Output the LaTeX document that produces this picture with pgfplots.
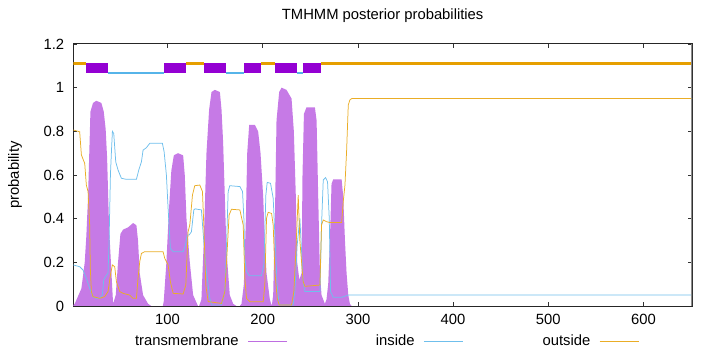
\documentclass[border=0pt]{standalone}
\usepackage{fontspec}
\setmainfont{Liberation Sans}
\usepackage{pgfplots}
\pgfplotsset{compat=1.18}
\definecolor{tmdark}{HTML}{9400D3}
\definecolor{tmfill}{RGB}{198,122,230}
\definecolor{tmline}{RGB}{190,110,225}
\definecolor{inblue}{HTML}{56B4E9}
\definecolor{outorange}{HTML}{E69F00}
\begin{document}
\fontsize{14.8bp}{17bp}\selectfont
\begin{tikzpicture}
\useasboundingbox (-73.3bp,-46bp) rectangle (646.7bp,306bp);
\begin{axis}[
  scale only axis,
  width=618.7bp, height=262bp,
  xmin=1, xmax=651, ymin=0, ymax=1.2,
  xtick={100,200,300,400,500,600},
  ytick={0,0.2,0.4,0.6,0.8,1,1.2},
  /pgf/number format/assume math mode=true,
  tick align=inside,
  major tick length=4bp,
  tick style={black!80, line width=0.6bp},
  axis line style={black!85, line width=1bp},
  xticklabel style={yshift=-3bp},
  yticklabel style={xshift=-4bp},
  title={TMHMM posterior probabilities},
  title style={at={(0.5,1)}, anchor=base, yshift=19bp},
  ylabel={probability},
  ylabel style={at={(-0.0942,0.5)}, anchor=center},
  legend columns=3,
  legend plot pos=right,
  legend image code/.code={\draw[#1] (0bp,0bp) -- (39bp,0bp);},
  legend style={draw=none, fill=none, at={(0.502,-0.1336)}, anchor=center,
    nodes={text width=110bp, align=right, inner xsep=0pt},
    /tikz/every odd column/.style={column sep=9bp},
    /tikz/every even column/.style={column sep=17bp}},
]
% transmembrane probability (impulses drawn as a filled area)
\addplot[fill=tmfill, draw=none,
  legend image code/.code={\draw[tmline, line width=0.9bp] (0bp,0bp) -- (39bp,0bp);}]
coordinates {
(1,0.005)(2.5,0.01)(9.5,0.08)(13,0.2)(14.7,0.32)(16.5,0.5)(19,0.89)(21.7,0.93)(25.2,0.94)
(30.5,0.93)(33,0.89)(35,0.81)(36.5,0.68)(38.6,0.36)(41,0.16)(42.8,0.01)(45.6,0.05)(48,0.2)
(50.5,0.33)(53.3,0.35)(58.5,0.36)(63.8,0.38)(67.3,0.37)(69,0.3)(70.8,0.15)(74.3,0.05)
(79.6,0.01)(83,0)(95,0)(96,0.02)(98.8,0.2)(101.6,0.45)(104,0.62)(106.6,0.69)(111,0.7)
(116.4,0.69)(118.1,0.6)(119.9,0.4)(123.4,0.2)(126.9,0.05)(132,0)(133.2,0)(135.6,0.03)
(138.1,0.3)(140.9,0.7)(143.7,0.9)(146.2,0.98)(149.7,0.99)(155,0.98)(156.7,0.9)(158.4,0.75)
(160.2,0.5)(162,0.25)(165.4,0.05)(169,0.01)(172.4,0)(176,0)(177.7,0.01)(180.2,0.1)
(182.3,0.4)(183.7,0.7)(185.8,0.83)(191.7,0.83)(195.2,0.8)(197.7,0.7)(200.5,0.5)(202.2,0.3)
(204,0.15)(207.5,0.03)(209.5,0)(211,0.05)(212.8,0.4)(214.5,0.85)(217.3,0.98)(219.8,1.0)
(225,0.99)(230.3,0.95)(232.7,0.8)(234.8,0.5)(236.2,0.2)(238.5,0.12)(240.8,0.15)(241.8,0.6)
(243.3,0.88)(246,0.91)(254.8,0.91)(256.6,0.85)(258.3,0.5)(260.1,0.15)(261.8,0.05)
(265.3,0.01)(267,0.03)(268.8,0.1)(270.6,0.3)(272.3,0.56)(274.1,0.58)(282.9,0.58)
(284.6,0.5)(286.4,0.3)(288.1,0.15)(289.9,0.05)(291.6,0.01)(293.4,0)(651,0)
} \closedcycle;
\addlegendentry{transmembrane}
% inside probability
\addplot[inblue!85, line width=0.75bp] coordinates {
(1,0.188)(7.7,0.18)(11.2,0.165)(14.7,0.127)(18.2,0.081)(21.7,0.043)(25.2,0.035)(28.7,0.035)
(31.5,0.05)(33,0.12)(35.7,0.14)(37.5,0.15)(38.6,0.3)(40,0.6)(41.2,0.72)(42.1,0.8)(43.5,0.79)
(45.6,0.66)(48,0.623)(51.5,0.585)(56.8,0.58)(67.3,0.58)(69.8,0.623)(72.6,0.661)(74.3,0.714)
(77.8,0.725)(81.3,0.745)(88.3,0.745)(94.6,0.745)(96.4,0.707)(98.8,0.6)(100.6,0.447)
(103,0.264)(105.9,0.249)(116.4,0.249)(118.8,0.279)(120.6,0.325)(122.7,0.325)(125.1,0.34)
(127.6,0.44)(129,0.445)(135.6,0.44)(138.1,0.295)(140.9,0.157)(144.4,0.035)(146.2,0.005)
(156.7,0.005)(160.2,0.066)(162,0.279)(163.7,0.524)(165.4,0.551)(176,0.547)(178.8,0.524)
(180.2,0.402)(181.2,0.218)(183,0.157)(185.8,0.139)(198.7,0.139)(201.2,0.188)(203.3,0.508)
(204.7,0.566)(208.2,0.562)(211,0.493)(212.8,0.325)(215.2,0.096)(217.3,0.005)(232,0.005)
(233.8,0.066)(236.2,0.279)(239,0.402)(242.5,0.111)(244.3,0.066)(260.1,0.066)(261.8,0.371)
(263.6,0.577)(266,0.588)(268.1,0.569)(269.9,0.402)(271.3,0.066)(274.1,0.04)(282.9,0.04)
(286.4,0.045)(289.9,0.05)(651,0.05)
};
\addlegendentry{inside}
% outside probability
\addplot[outorange!85, line width=0.75bp] coordinates {
(1,0.806)(7.7,0.798)(9.5,0.692)(13,0.653)(14.7,0.554)(16.5,0.524)(18.2,0.37)(18.9,0.17)
(20,0.066)(21.7,0.043)(28.7,0.035)(34,0.043)(37.5,0.066)(40,0.142)(42.1,0.188)(44.5,0.18)
(46.3,0.111)(49.8,0.066)(53.3,0.058)(60.3,0.05)(63.8,0.035)(67.3,0.035)(69,0.127)(70.8,0.203)
(72.6,0.241)(76.1,0.249)(95.3,0.249)(97.1,0.218)(100.6,0.188)(103,0.111)(105.9,0.058)
(116.4,0.055)(119.2,0.096)(121.6,0.34)(123.4,0.371)(126.2,0.508)(128.6,0.551)(133.9,0.554)
(136.7,0.524)(138.1,0.371)(140.2,0.096)(142.7,0.02)(156.7,0.012)(160.2,0.066)(162.6,0.249)
(164.7,0.417)(167.2,0.443)(176,0.44)(179.5,0.371)(181.2,0.127)(183,0.035)(186.5,0.02)
(200.5,0.02)(202.2,0.096)(204,0.402)(205.7,0.429)(209.3,0.424)(211,0.371)(212.8,0.157)
(215.2,0.035)(217.3,0.005)(230.3,0.005)(232.7,0.066)(234.8,0.249)(237.3,0.508)(239,0.3)
(242.5,0.111)(244.3,0.09)(260.1,0.096)(261.8,0.371)(263.6,0.394)(267.1,0.386)(269.9,0.383)
(282.9,0.383)(284.6,0.478)(286.4,0.554)(288.1,0.707)(289.9,0.921)(291.6,0.944)(293.5,0.95)
(651,0.95)
};
\addlegendentry{outside}
% topology bar
\addplot[outorange, line width=2.6bp, forget plot] coordinates {(1,1.111)(14.4,1.111)};
\addplot[outorange, line width=2.6bp, forget plot] coordinates {(119.2,1.111)(138.4,1.111)};
\addplot[outorange, line width=2.6bp, forget plot] coordinates {(198.4,1.111)(212.4,1.111)};
\addplot[outorange, line width=2.6bp, forget plot] coordinates {(261.5,1.111)(651,1.111)};
\addplot[inblue, line width=2.6bp, forget plot] coordinates {(37.2,1.067)(96.4,1.067)};
\addplot[inblue, line width=2.6bp, forget plot] coordinates {(161.3,1.067)(180.5,1.067)};
\addplot[inblue, line width=2.6bp, forget plot] coordinates {(235.5,1.067)(242.2,1.067)};
\addplot[tmdark, line width=10bp, forget plot] coordinates {(14.4,1.0905)(37.2,1.0905)};
\addplot[tmdark, line width=10bp, forget plot] coordinates {(96.4,1.0905)(119.2,1.0905)};
\addplot[tmdark, line width=10bp, forget plot] coordinates {(138.4,1.0905)(161.3,1.0905)};
\addplot[tmdark, line width=10bp, forget plot] coordinates {(180.5,1.0905)(198.4,1.0905)};
\addplot[tmdark, line width=10bp, forget plot] coordinates {(212.4,1.0905)(235.5,1.0905)};
\addplot[tmdark, line width=10bp, forget plot] coordinates {(242.2,1.0905)(261.5,1.0905)};
\draw[black!45, line width=2.2bp] (rel axis cs:1,0) -- (rel axis cs:1,1);
\end{axis}
\end{tikzpicture}
\end{document}
